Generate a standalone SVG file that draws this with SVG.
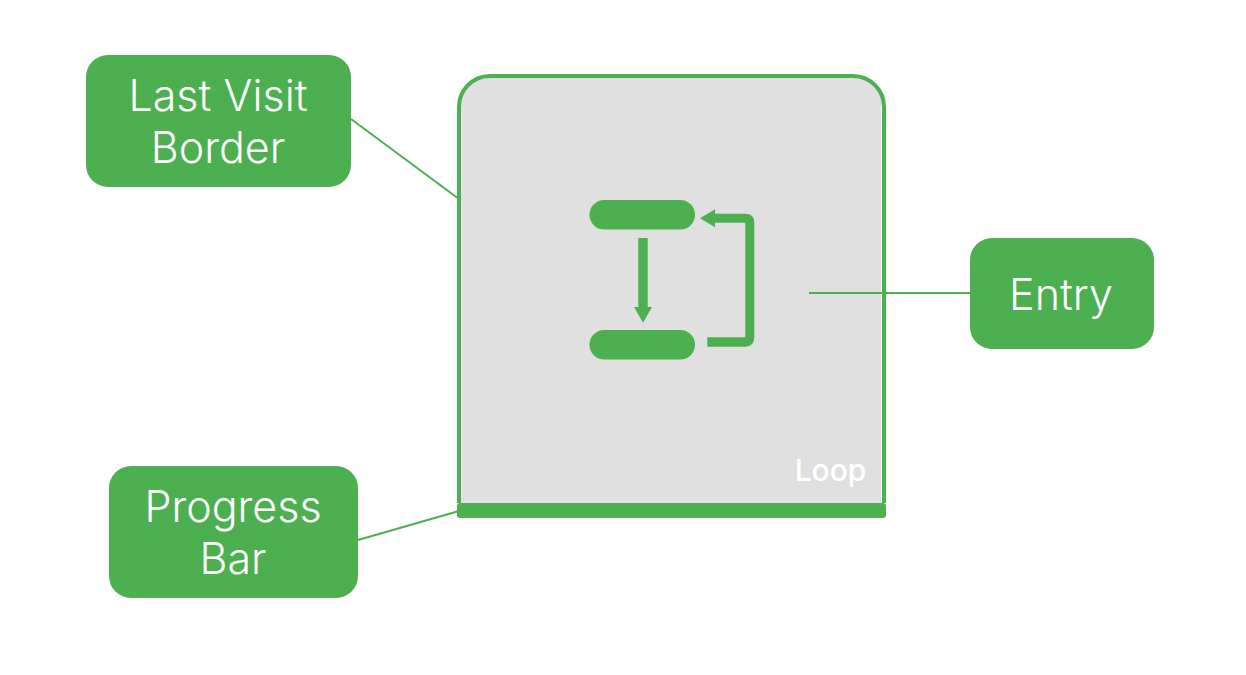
<svg xmlns="http://www.w3.org/2000/svg" width="1246" height="675" viewBox="0 0 1246 675">
<style>
.node{fill:#4caf50}
.lbl{fill:#fff;font-family:"Inter","Noto Sans",sans-serif;font-weight:300;font-size:43px;text-anchor:middle}
.conn{stroke:#4caf50;stroke-width:2;fill:none}
.g{fill:#4caf50}
</style>
<rect width="1246" height="675" fill="#fff"/>
<g id="loop-block">
<path d="M459 503V108A31 31 0 0 1 490 76H853A31 31 0 0 1 884 108V503Z" fill="#e0e0e0"/>
<path d="M459 503V108A31 31 0 0 1 490 76H853A31 31 0 0 1 884 108V503" fill="none" stroke="#4caf50" stroke-width="4"/>
<rect x="881" y="105" width="1" height="398" fill="#fff"/>
<rect id="progress-bar" class="g" x="457" y="503" width="429" height="15" rx="3"/>
<rect class="g" x="589.5" y="200" width="105.500" height="29.500" rx="14.750"/>
<rect class="g" x="589.5" y="330" width="105.500" height="29.500" rx="14.750"/>
<path class="g" d="M638.300 238H647.700V307H652L643 322.700L634 307H638.300Z"/>
<path class="g" d="M707.300 337.300H745.300V222.700H715V227.300L700 218.300L715 209.300V213.700H745.300Q754.300 213.700 754.300 222.700V337.300Q754.300 346.700 745.300 346.700H707.300Z"/>
<text x="830.500" y="481" text-anchor="middle" font-family="Inter,'Noto Sans',sans-serif" font-weight="500" font-size="30" fill="#fff">Loop</text>
</g>
<g id="connectors">
<line class="conn" x1="351" y1="119" x2="459" y2="199"/>
<line class="conn" x1="809" y1="293" x2="970" y2="293"/>
<line class="conn" x1="358" y1="540" x2="459" y2="511"/>
</g>
<g id="node-last-visit-border">
<rect class="node" x="86" y="55" width="265" height="132" rx="22"/>
<text class="lbl" x="218" y="111">Last Visit</text>
<text class="lbl" x="218" y="163">Border</text>
</g>
<g id="node-entry">
<rect class="node" x="970" y="238" width="184" height="111" rx="22"/>
<text class="lbl" x="1061" y="310">Entry</text>
</g>
<g id="node-progress-bar">
<rect class="node" x="109" y="466" width="249" height="132" rx="22"/>
<text class="lbl" x="233" y="522">Progress</text>
<text class="lbl" x="233" y="574">Bar</text>
</g>
</svg>
